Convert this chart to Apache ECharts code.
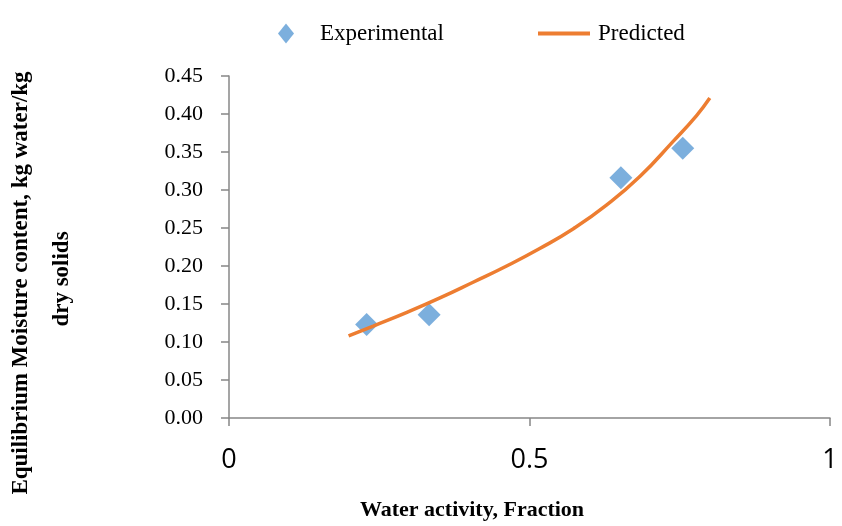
<!DOCTYPE html>
<html>
<head>
<meta charset="utf-8">
<script src="https://cdn.jsdelivr.net/npm/echarts@6/dist/echarts.min.js"></script>
<style>
html, body { margin: 0; padding: 0; background: #fff; }
#main { width: 842px; height: 526px; }
</style>
</head>
<body>
<div id="main"></div>
<script>
// measured points
var expX = [0.229, 0.333, 0.652, 0.755];
var expY = [0.123, 0.136, 0.316, 0.355];

// predicted curve
var predX = [0.199, 0.240, 0.296, 0.351, 0.407, 0.462, 0.517, 0.573, 0.628, 0.684, 0.739, 0.778, 0.800];
var predY = [0.108, 0.121, 0.139, 0.158, 0.179, 0.200, 0.223, 0.249, 0.280, 0.318, 0.364, 0.398, 0.421];

var xTicks = [0, 0.5, 1];

var serif = '"Liberation Serif", "DejaVu Serif", serif';
var axisGray = '#878787';

function pairs(xs, ys) {
    var out = [];
    for (var i = 0; i < xs.length; i++) out.push([xs[i], ys[i]]);
    return out;
}

var myChart = echarts.init(document.getElementById('main'));
var option = {
    backgroundColor: '#fff',
    animation: false,
    grid: { left: 229, right: 12, top: 76, bottom: 107 },
    legend: [{
        data: [{ name: 'Experimental', icon: 'diamond' }],
        left: 273, top: 17,
        itemWidth: 16, itemHeight: 20,
        textStyle: { fontFamily: serif, fontSize: 23, color: '#000', padding: [0, 0, 0, 21] }
    }, {
        data: [{ name: 'Predicted', icon: 'rect' }],
        left: 533, top: 17,
        itemWidth: 52, itemHeight: 4,
        textStyle: { fontFamily: serif, fontSize: 23, color: '#000', padding: [0, 0, 0, 3] }
    }],
    xAxis: {
        type: 'value', min: 0, max: 1, interval: 0.5,
        name: 'Water activity, Fraction', nameLocation: 'middle', nameGap: 81,
        nameTextStyle: { fontFamily: serif, fontSize: 22, fontWeight: 'bold', color: '#000', padding: [0, 0, 0, -115] },
        axisLine: { lineStyle: { color: axisGray, width: 1.5 } },
        axisTick: { show: true, length: 8, lineStyle: { color: axisGray, width: 1.5 } },
        splitLine: { show: false },
        axisLabel: {
            margin: 29, fontSize: 27, color: '#000', fontFamily: '"Open Sans", "Noto Sans", sans-serif',
            formatter: function (v) { return xTicks.indexOf(v) >= 0 ? String(v) : ''; }
        }
    },
    yAxis: {
        type: 'value', min: 0, max: 0.45, interval: 0.05,
        axisLine: { show: true, lineStyle: { color: axisGray, width: 1.5 } },
        axisTick: { show: true, length: 8, lineStyle: { color: axisGray, width: 1.5 } },
        splitLine: { show: false },
        axisLabel: {
            margin: 26, fontSize: 22, color: '#000', fontFamily: serif,
            formatter: function (v) { return v.toFixed(2); }
        }
    },
    graphic: [{
        type: 'text', x: 21, y: 283, rotation: Math.PI / 2,
        style: {
            text: 'Equilibrium Moisture content, kg water/kg',
            font: 'bold 23px ' + serif, fill: '#000',
            textAlign: 'center', textVerticalAlign: 'middle'
        }
    }, {
        type: 'text', x: 62, y: 279, rotation: Math.PI / 2,
        style: {
            text: 'dry solids',
            font: 'bold 23px ' + serif, fill: '#000',
            textAlign: 'center', textVerticalAlign: 'middle'
        }
    }],
    series: [{
        name: 'Experimental',
        type: 'scatter',
        symbol: 'diamond',
        symbolSize: 23,
        itemStyle: { color: '#5B9BD5' },
        data: pairs(expX, expY),
        z: 2
    }, {
        name: 'Predicted',
        type: 'line',
        smooth: true,
        showSymbol: false,
        lineStyle: { color: '#ED7D31', width: 3.5 },
        itemStyle: { color: '#ED7D31' },
        data: pairs(predX, predY),
        z: 3
    }]
};
myChart.setOption(option);
</script>
</body>
</html>
